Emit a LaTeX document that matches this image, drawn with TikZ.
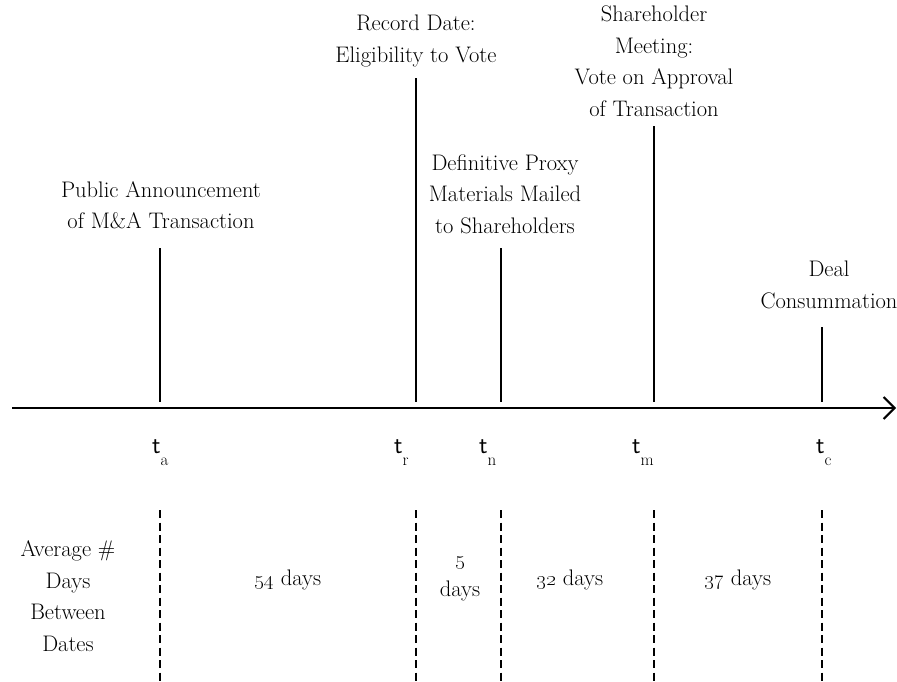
\documentclass[tikz,border=0pt]{standalone}
\usetikzlibrary{arrows.meta}
\begin{document}
\begin{tikzpicture}[x=1pt,y=-1pt,
  lbl/.style={align=center,font=\fontsize{22.5}{31.5}\selectfont,inner sep=0pt},
  tick/.style={line width=2.6pt},
  dline/.style={line width=2.4pt,dash pattern=on 8pt off 4.5pt},
  tl/.style={font=\fontsize{25}{27}\selectfont,inner sep=0pt}]
\useasboundingbox (0,0) rectangle (897,681);
% axis
\coordinate (s) at (12,408);
\coordinate (e) at (896,408);
\draw[line width=2pt,-{Straight Barb[length=11pt,width=22pt,line width=2pt]}] (s) -- (e);
% ticks
\foreach \n/\x/\y in {a/160/248, r/416/78, n/501/248, m/654/126, c/822/327}{
  \coordinate (top\n) at (\x,\y);
  \coordinate (bot\n) at (\x,402);
  \draw[tick] (top\n) -- (bot\n);
  \coordinate (dt\n) at (\x,510);
  \coordinate (db\n) at (\x,681);
  \draw[dline] (dt\n) -- (db\n);
}
% labels
\node[lbl] (la) at (161,205) {Public Announcement\\of M\&A Transaction};
\node[lbl] (lr) at (416,41) {Record Date:\\Eligibility to Vote};
\node[lbl] (ln) at (505,194) {Definitive Proxy\\Materials Mailed\\to Shareholders};
\node[lbl] (lm) at (654,61) {Shareholder\\Meeting:\\Vote on Approval\\of Transaction};
\node[lbl] (lc) at (829,285) {Deal\\Consummation};
% t labels
\node[tl,anchor=base west] (ta) at (152,453) {\sffamily t\raisebox{-12pt}{\fontsize{17}{17}\selectfont\rmfamily a}};
\node[tl,anchor=base west] (tr) at (394,453) {\sffamily t\raisebox{-12pt}{\fontsize{17}{17}\selectfont\rmfamily r}};
\node[tl,anchor=base west] (tn) at (479,453) {\sffamily t\raisebox{-12pt}{\fontsize{17}{17}\selectfont\rmfamily n}};
\node[tl,anchor=base west] (tm) at (632,453) {\sffamily t\raisebox{-12pt}{\fontsize{17}{17}\selectfont\rmfamily m}};
\node[tl,anchor=base west] (tc) at (816,453) {\sffamily t\raisebox{-12pt}{\fontsize{17}{17}\selectfont\rmfamily c}};
% bottom labels
\node[lbl] (avg) at (68,596) {Average \#\\Days\\Between\\Dates};
\node[lbl] (d1) at (288,580) {\oldstylenums{54} days};
\node[lbl] (d2) at (460,579) {\oldstylenums{5}\\days};
\node[lbl] (d3) at (570,580) {\oldstylenums{32} days};
\node[lbl] (d4) at (738,580) {\oldstylenums{37} days};
\end{tikzpicture}
\end{document}
